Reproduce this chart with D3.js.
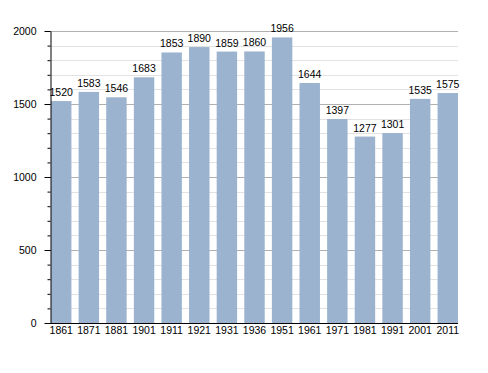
<!DOCTYPE html>
<html>
<head>
<meta charset="utf-8">
<script src="https://cdn.jsdelivr.net/npm/d3@7"></script>
<style>
  body { margin: 0; background: #fff; }
  text { font-family: "Liberation Sans", Arial, sans-serif; font-size: 10.5px; fill: #000; }
</style>
</head>
<body>
<svg width="488" height="373"></svg>
<script>
const years = ['1861', '1871', '1881', '1901', '1911', '1921', '1931', '1936', '1951', '1961', '1971', '1981', '1991', '2001', '2011'];
const population = [1520, 1583, 1546, 1683, 1853, 1890, 1859, 1860, 1956, 1644, 1397, 1277, 1301, 1535, 1575];
const majorTicks = [0, 500, 1000, 1500, 2000];
const minorTicks = d3.range(0, 2001, 100);

const svg = d3.select('svg');
const plotLeft = 51, plotRight = 458, plotTop = 31, plotBottom = 323;

const x = d3.scaleBand()
    .domain(years)
    .range([plotLeft, plotRight])
    .paddingInner(0.26)
    .paddingOuter(0);

const y = d3.scaleLinear()
    .domain([0, 2000])
    .range([plotBottom, plotTop]);

// minor grid
svg.append('g')
    .selectAll('line')
    .data(minorTicks.filter(d => d % 500 !== 0))
    .enter().append('line')
    .attr('x1', plotLeft).attr('x2', plotRight)
    .attr('y1', d => Math.round(y(d)) + 0.5).attr('y2', d => Math.round(y(d)) + 0.5)
    .attr('stroke', '#e2e2e2');

// major grid
svg.append('g')
    .selectAll('line')
    .data(majorTicks.filter(d => d > 0))
    .enter().append('line')
    .attr('x1', plotLeft).attr('x2', plotRight)
    .attr('y1', d => Math.round(y(d)) + 0.5).attr('y2', d => Math.round(y(d)) + 0.5)
    .attr('stroke', '#b0b0b0');

// bars
svg.append('g')
    .selectAll('rect')
    .data(population)
    .enter().append('rect')
    .attr('x', (d, i) => x(years[i]))
    .attr('y', d => y(d))
    .attr('width', x.bandwidth())
    .attr('height', d => plotBottom - y(d))
    .attr('fill', '#9bb3cf');

// value labels
svg.append('g')
    .selectAll('text')
    .data(population)
    .enter().append('text')
    .attr('x', (d, i) => x(years[i]) + x.bandwidth() / 2)
    .attr('y', d => y(d) - 5)
    .attr('text-anchor', 'middle')
    .text(d => d);

// y axis with minor ticks
svg.append('g')
    .attr('transform', `translate(${plotLeft - 0.5},0)`)
    .call(d3.axisLeft(y).tickValues(minorTicks).tickSize(3).tickFormat(''))
    .call(g => g.select('.domain').remove())
    .selectAll('line').attr('stroke', '#000');

const yAxis = svg.append('g')
    .attr('transform', `translate(${plotLeft - 0.5},0)`)
    .call(d3.axisLeft(y).tickValues(majorTicks).tickFormat(d3.format('d'))
        .tickSize(6).tickPadding(8).tickSizeOuter(0));
yAxis.select('.domain').attr('stroke', '#000');

// x axis
const xAxis = svg.append('g')
    .attr('transform', `translate(0,${plotBottom + 0.5})`)
    .call(d3.axisBottom(x).tickSize(0).tickPadding(3).tickSizeOuter(0));
xAxis.select('.domain').attr('d', `M${plotLeft - 6},0H${plotRight}`).attr('stroke', '#000');
</script>
</body>
</html>
